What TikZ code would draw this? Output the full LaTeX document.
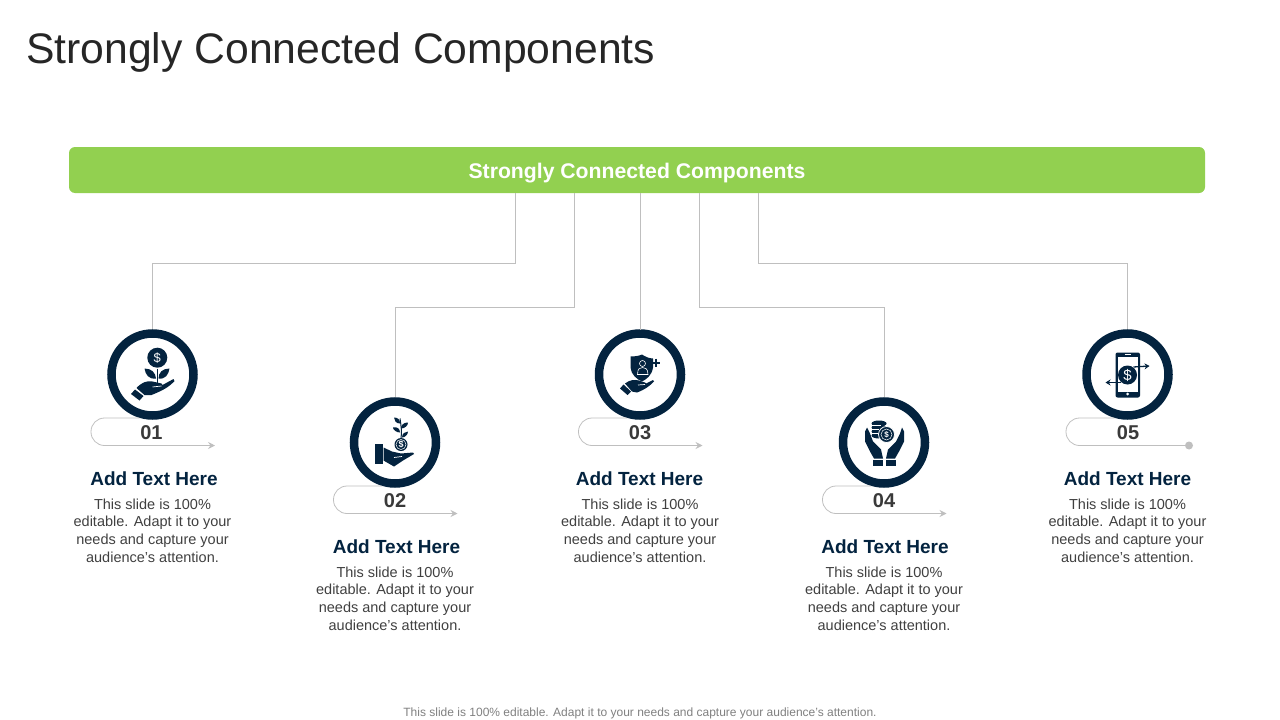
\documentclass[tikz,border=0pt]{standalone}
\usepackage{fontspec}
\setmainfont{Liberation Sans}
\usepackage{tikz}
\usetikzlibrary{arrows.meta, calc}

\definecolor{navy}{HTML}{03233F}
\definecolor{barGreen}{HTML}{92D050}
\definecolor{lineGrey}{HTML}{BFBFBF}
\definecolor{bodyGrey}{HTML}{404040}

\tikzset{
    link/.style={draw=lineGrey, line width=0.8pt},
    ring/.style={circle, draw=navy, fill=white, line width=8.5pt, minimum size=82pt, inner sep=0pt},
    tabline/.style={draw=lineGrey, line width=0.8pt, rounded corners=13.5pt},
    tabtip/.style={-{Stealth[length=7pt, width=7pt, inset=2.5pt]}},
    num/.style={font=\fontsize{20}{20}\selectfont\bfseries, text=bodyGrey!90!black},
    heading/.style={font=\fontsize{19}{20}\selectfont\bfseries, text=navy},
    body/.style={font=\fontsize{14.5}{17.6}\selectfont, text=bodyGrey, align=center},
    ink/.style={fill=navy, draw=none},
    cut/.style={draw=white, line width=0.7pt},
    sign/.style={text=white, inner sep=0pt}
}

\begin{document}
\begin{tikzpicture}[x=1pt, y=-1pt]
    \useasboundingbox (0,0) rectangle (1280,720);

    \node[anchor=base west, inner sep=0pt, text=black!85, font=\fontsize{42.7}{50}\selectfont] (title) at (26,63) {Strongly Connected Components};
    \node[fill=barGreen, rounded corners=6pt, minimum width=1136pt, minimum height=46pt, inner sep=0pt] (bar) at (637,170) {};
    \node[text=white, font=\fontsize{21.2}{24}\selectfont\bfseries] (bartext) at (637,173) {Strongly Connected Components};
    \node[font=\fontsize{12}{14}\selectfont, text=black!50] (footer) at (640,713) {This slide is 100\% editable. Adapt it to your needs and capture your audience's attention.};

    \node[ring] (c1) at (152.5,374.5) {};
    \node[ring] (c2) at (395,442.5) {};
    \node[ring] (c3) at (640,374.5) {};
    \node[ring] (c4) at (884,442.5) {};
    \node[ring] (c5) at (1127.5,374.5) {};

    % connectors
    \draw[link] ($(bar.south west)+(447,0)$) -- ($(bar.south west)+(447,70)$) -| (c1.north);
    \draw[link] ($(bar.south west)+(506,0)$) -- ($(bar.south west)+(506,114)$) -| (c2.north);
    \draw[link] ($(bar.south west)+(572,0)$) -- ($(bar.south west)+(572,137)$);
    \draw[link] ($(bar.south west)+(631,0)$) -- ($(bar.south west)+(631,114)$) -| (c4.north);
    \draw[link] ($(bar.south west)+(690,0)$) -- ($(bar.south west)+(690,70)$) -| (c5.north);

    % tabs and numbers
    \draw[tabline, tabtip] ($(c1)+(-13,43.5)$) -- ($(c1)+(-61.5,43.5)$) -- ($(c1)+(-61.5,71)$) -- ($(c1)+(62.5,71)$);
    \draw[tabline, tabtip] ($(c2)+(-13,43.5)$) -- ($(c2)+(-61.5,43.5)$) -- ($(c2)+(-61.5,71)$) -- ($(c2)+(62.5,71)$);
    \draw[tabline, tabtip] ($(c3)+(-13,43.5)$) -- ($(c3)+(-61.5,43.5)$) -- ($(c3)+(-61.5,71)$) -- ($(c3)+(62.5,71)$);
    \draw[tabline, tabtip] ($(c4)+(-13,43.5)$) -- ($(c4)+(-61.5,43.5)$) -- ($(c4)+(-61.5,71)$) -- ($(c4)+(62.5,71)$);
    \node[circle, fill=lineGrey, minimum size=8pt, inner sep=0pt] (end5) at ($(c5)+(61.5,71)$) {};
    \draw[tabline] ($(c5)+(-13,43.5)$) -- ($(c5)+(-61.5,43.5)$) -- ($(c5)+(-61.5,71)$) -- (end5);

    \node[num] (n1) at ($(c1)+(-1,58)$) {01};
    \node[num] (n2) at ($(c2)+(0,58)$) {02};
    \node[num] (n3) at ($(c3)+(0,58)$) {03};
    \node[num] (n4) at ($(c4)+(0,58)$) {04};
    \node[num] (n5) at ($(c5)+(0.5,58)$) {05};

    % texts
    \node[heading] (h1) at ($(c1)+(1.5,104.5)$) {Add Text Here};
    \node[heading] (h2) at ($(c2)+(1.5,104.5)$) {Add Text Here};
    \node[heading] (h3) at ($(c3)+(-0.5,104.5)$) {Add Text Here};
    \node[heading] (h4) at ($(c4)+(1,104.5)$) {Add Text Here};
    \node[heading] (h5) at ($(c5)+(0,104.5)$) {Add Text Here};

    \node[body] (b1) at ($(c1)+(0,156)$) {This slide is 100\%\\editable. Adapt it to your\\needs and capture your\\audience's attention.};
    \node[body] (b2) at ($(c2)+(0,156)$) {This slide is 100\%\\editable. Adapt it to your\\needs and capture your\\audience's attention.};
    \node[body] (b3) at ($(c3)+(0,156)$) {This slide is 100\%\\editable. Adapt it to your\\needs and capture your\\audience's attention.};
    \node[body] (b4) at ($(c4)+(0,156)$) {This slide is 100\%\\editable. Adapt it to your\\needs and capture your\\audience's attention.};
    \node[body] (b5) at ($(c5)+(0,156)$) {This slide is 100\%\\editable. Adapt it to your\\needs and capture your\\audience's attention.};

    % icon 1: plant on hand
    \begin{scope}[shift={(c1)}]
        \fill[ink] (4.8,-16.8) circle (10);
        \node[sign, font=\fontsize{13}{13}\selectfont] (s1) at (4.8,-16.8) {\$};
        \draw[navy, line width=1pt] (4.8,-6) -- (4.8,8);
        \fill[ink] (3.5,4) .. controls (-4,5) and (-7,0) .. (-8,-6) .. controls (-1,-6) and (3,-2) .. (3.5,4);
        \fill[ink] (6,4) .. controls (13,5) and (16,0) .. (17,-6) .. controls (10,-6) and (6,-2) .. (6,4);
        \fill[ink] (-21.5,19.5) -- (-17.5,15) -- (-9,21.5) -- (-13,26) -- cycle;
        \fill[ink] (-16,13.5) .. controls (-11,8) and (-6,6) .. (0,7) -- (9,9) -- (10,10.5) -- (21,4.5) -- (22,6.5) .. controls (16,13) and (10,16) .. (-1,20.5) -- (-8,20.5) -- cycle;
        \draw[cut] (0,12.5) -- (9,11.5);
    \end{scope}

    % icon 2: seedling and coin on hand
    \begin{scope}[shift={(c2)}]
        \fill[ink] (-20,1.5) rectangle (-12.5,21);
        \fill[ink] (-11.5,5) -- (-3,9) -- (6,11) -- (18,10) -- (19,11.5) -- (8,18) -- (-1,24) -- (-11.5,18) -- cycle;
        \draw[cut] (-1,15) -- (7,14);
        \fill[ink] (6,2) circle (6.5);
        \draw[white, line width=0.5pt] (6,2) circle (5);
        \node[sign, font=\fontsize{9}{9}\selectfont\bfseries] (s2) at (6,2) {\$};
        \draw[navy, line width=1pt] (6,-4) .. controls (7,-10) and (6,-18) .. (5,-24);
        \fill[ink] (5,-19) .. controls (1,-19) and (-1,-22) .. (-1,-25) .. controls (3,-25) and (5,-23) .. (5,-19);
        \fill[ink] (6,-14) .. controls (10,-14) and (13,-17) .. (13,-20) .. controls (9,-20) and (6,-18) .. (6,-14);
        \fill[ink] (5,-10) .. controls (1,-10) and (-2,-13) .. (-2,-15) .. controls (2,-16) and (5,-14) .. (5,-10);
        \fill[ink] (7,-5) .. controls (10,-5) and (13,-8) .. (13,-11) .. controls (10,-11) and (7,-9) .. (7,-5);
    \end{scope}

    % icon 3: shield and person on hand
    \begin{scope}[shift={(c3)}]
        \fill[ink] (-9.5,-18) .. controls (-4,-18) and (0,-19) .. (2,-20) .. controls (5,-18) and (9,-16) .. (13,-16) -- (13,-7) .. controls (12,1) and (6,5) .. (2,7) .. controls (-3,5) and (-9,0) .. (-9.5,-7) -- cycle;
        \draw[white, line width=0.6pt] (2.5,-11) circle (3);
        \draw[white, line width=0.6pt] (-2.5,0) .. controls (-2.5,-6) and (0,-7) .. (2.5,-7) .. controls (5,-7) and (8,-6) .. (8,0) -- cycle;
        \draw[navy, line width=2pt] (12,-12) -- (20,-12) (16,-16) -- (16,-8);
        \fill[ink] (-20,14) -- (-16.5,10) -- (-9,17) -- (-12.5,20.5) -- cycle;
        \fill[ink] (-15,9) .. controls (-10,5) and (-5,5) .. (-1,6) -- (5,8) -- (6,9) -- (13,5.5) -- (14,7) .. controls (9,12) and (5,15) .. (-3,18) -- (-8,17) -- cycle;
        \draw[cut] (-2,10.5) -- (5,10);
    \end{scope}

    % icon 4: coins held by two hands
    \begin{scope}[shift={(c4)}]
        \fill[ink] (-19,-11) -- (-17,-15) -- (-14,-9) -- (-11,-1) -- (-3,7) -- (-1,16) -- (-10,16) -- (-14,9) -- (-19,-1) -- cycle;
        \fill[ink] (-11,17) rectangle (-1,23);
        \fill[ink] (20,-11) -- (18,-15) -- (16,-9) -- (12,-1) -- (4,7) -- (2,16) -- (11,16) -- (15,9) -- (20,-1) -- cycle;
        \fill[ink] (2,17) rectangle (12,23);
        \fill[ink] (-5,-19) ellipse (7.5 and 3);
        \fill[ink] (-5,-15) ellipse (7.5 and 3);
        \fill[ink] (-5,-11) ellipse (7.5 and 3);
        \fill[ink] (-5,-7) ellipse (7.5 and 3);
        \draw[cut] (-12.5,-17) -- (-3,-17) (-12.5,-13) -- (-5,-13) (-12.5,-9) -- (-5,-9);
        \draw[white, fill=navy, line width=0.8pt] (2.5,-8) circle (8);
        \draw[white, line width=0.5pt] (2.5,-8) circle (5.5);
        \node[sign, font=\fontsize{8}{8}\selectfont\bfseries] (s4) at (2.5,-8) {\$};
    \end{scope}

    % icon 5: phone with coin and arrows
    \begin{scope}[shift={(c5)}]
        \fill[ink, rounded corners=2pt] (-12,-22) rectangle (12.5,23);
        \fill[white] (-10,-18) rectangle (10.5,17);
        \fill[white] (0.2,19.5) circle (1.5);
        \draw[white, line width=0.6pt] (-3,-20) -- (3.5,-20);
        \fill[ink] (0,0.5) circle (9.5);
        \node[sign, font=\fontsize{15}{15}\selectfont] (s5) at (0,0.5) {\$};
        \draw[navy, line width=1.3pt, -{Stealth[length=5pt, width=6pt]}] (6,-7.5) -- (22,-8.5);
        \draw[navy, line width=1.3pt, -{Stealth[length=5pt, width=6pt]}] (-7,8) -- (-22,8);
    \end{scope}
\end{tikzpicture}
\end{document}
